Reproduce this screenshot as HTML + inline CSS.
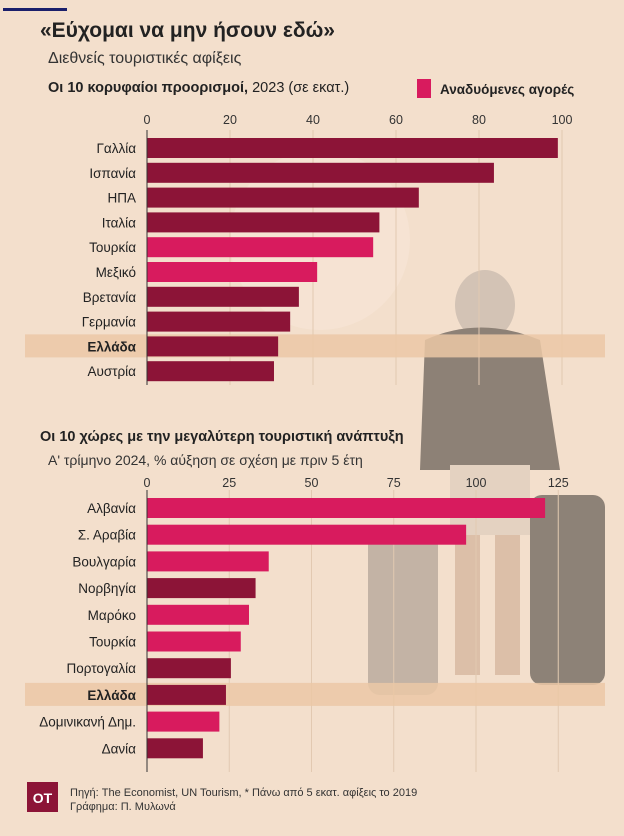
<!DOCTYPE html>
<html><head><meta charset="utf-8"><style>
body{margin:0;background:#f3dfcc;font-family:"Liberation Sans","Noto Sans CJK SC",sans-serif;}
#wrap{position:relative;width:624px;height:836px;overflow:hidden;background:#f3dfcc;}
svg{position:absolute;left:0;top:0;}
</style></head><body>
<div id="wrap">
<svg id="svg" width="624" height="836">
<g opacity="0.55">
<circle cx="320" cy="240" r="90" fill="#fbeee2" opacity="0.6"/>
<ellipse cx="485" cy="305" rx="30" ry="35" fill="#b8aca2"/>
<path d="M425 340 Q480 315 540 340 L560 470 L420 470 Z" fill="#3a3330"/>
<rect x="450" y="465" width="80" height="70" fill="#d8c7b8"/>
<rect x="455" y="535" width="25" height="140" fill="#c9a58a"/>
<rect x="495" y="535" width="25" height="140" fill="#c9a58a"/>
<rect x="368" y="525" width="70" height="170" rx="12" fill="#9b8e86"/>
<rect x="530" y="495" width="75" height="190" rx="12" fill="#3a3532"/>
</g>
</svg>
</div>
<script>
const topCats=["Γαλλία","Ισπανία","ΗΠΑ","Ιταλία","Τουρκία","Μεξικό","Βρετανία","Γερμανία","Ελλάδα","Αυστρία"];
const topVals=[99,83.6,65.5,56,54.5,41,36.6,34.5,31.6,30.6];
const topEmerging=[0,0,0,0,1,1,0,0,0,0];
const topTicks=[0,20,40,60,80,100];
const botCats=["Αλβανία","Σ. Αραβία","Βουλγαρία","Νορβηγία","Μαρόκο","Τουρκία","Πορτογαλία","Ελλάδα","Δομινικανή Δημ.","Δανία"];
const botVals=[121,97,37,33,31,28.5,25.5,24,22,17];
const botEmerging=[1,1,1,0,1,1,0,0,1,0];
const botTicks=[0,25,50,75,100,125];

const svg=document.getElementById('svg');
const NS="http://www.w3.org/2000/svg";
function el(tag,attrs,text){const e=document.createElementNS(NS,tag);for(const k in attrs)e.setAttribute(k,attrs[k]);if(text!==undefined)e.textContent=text;svg.appendChild(e);return e;}
const DARK="#8c1437",PINK="#d81b5e";

let e;
e=el('rect',{x:3,y:8,width:64,height:3,fill:"#1a1f6b"});

e=el('text',{x:40,y:37,'font-size':21,'font-weight':'bold',fill:'#222'},"«Εύχομαι να μην ήσουν εδώ»");

e=el('text',{x:48,y:63,'font-size':16,fill:'#333'},"Διεθνείς τουριστικές αφίξεις");

e=el('text',{x:48,y:92,'font-size':14.5,fill:'#222'});
e.innerHTML='<tspan font-weight="bold">Οι 10 κορυφαίοι προορισμοί,</tspan> 2023 (σε εκατ.)';

e=el('rect',{x:417,y:79,width:14,height:19,fill:PINK});

e=el('text',{x:440,y:94,'font-size':13.5,'font-weight':'bold',fill:'#222'},"Αναδυόμενες αγορές");


function chart(cats,vals,em,ticks,x0,pxPer,y0,step,tickY,gridTop,gridBot,bandName){
  ticks.forEach(t=>{
    const x=x0+t*pxPer;
    let g=el('line',{x1:x,x2:x,y1:gridTop,y2:gridBot,stroke:'#e2c9b1','stroke-width':1});
    
    let l=el('text',{x:x,y:tickY,'font-size':12.5,fill:'#333','text-anchor':'middle'},String(t));
    
  });
  cats.forEach((c,i)=>{
    const cy=y0+i*step;
    if(c==="Ελλάδα"){
      let b=el('rect',{x:25,y:cy-12,width:580,height:23,fill:'#ebc8a6',opacity:0.85});
      
    }
    let r=el('rect',{x:x0,y:cy-10,width:vals[i]*pxPer,height:20,fill:em[i]?PINK:DARK});
    
    let t=el('text',{x:136,y:cy+5,'font-size':13.5,fill:'#222','text-anchor':'end','font-weight':c==="Ελλάδα"?'bold':'normal'},c);
    
  });
  let a=el('line',{x1:x0,x2:x0,y1:gridTop,y2:gridBot,stroke:'#333','stroke-width':1});
  
}
chart(topCats,topVals,topEmerging,topTicks,147,4.15,148,24.8,124,130,385,'greece-highlight-top');

e=el('text',{x:40,y:441,'font-size':14.5,'font-weight':'bold',fill:'#222'},"Οι 10 χώρες με την μεγαλύτερη τουριστική ανάπτυξη");

e=el('text',{x:48,y:465,'font-size':14,fill:'#333'},"Α' τρίμηνο 2024, % αύξηση σε σχέση με πριν 5 έτη");

chart(botCats,botVals,botEmerging,botTicks,147,3.29,508,26.7,487,490,772,'greece-highlight-bottom');

e=el('rect',{x:27,y:782,width:31,height:30,fill:DARK});

e=el('text',{x:42.5,y:803,'font-size':14,'font-weight':'bold',fill:'#fff','text-anchor':'middle'},"OT");

e=el('text',{x:70,y:796,'font-size':11,fill:'#333'},"Πηγή: The Economist, UN Tourism, * Πάνω από 5 εκατ. αφίξεις το 2019");

e=el('text',{x:70,y:810,'font-size':11,fill:'#333'},"Γράφημα: Π. Μυλωνά");

</script>
</body></html>
